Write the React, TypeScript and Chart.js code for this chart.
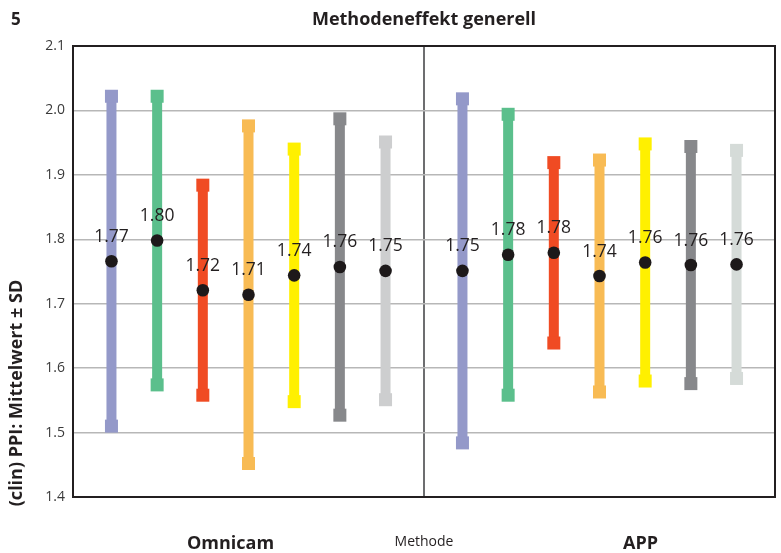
import React, { useEffect, useRef } from 'react';
import { Chart, registerables } from 'chart.js';

Chart.register(...registerables);

// ---- data ----
const methods = ['Omnicam', 'APP'];
const meanOmnicam = [1.766, 1.798, 1.721, 1.714, 1.744, 1.757, 1.751];
const sdOmnicam = [0.256, 0.224, 0.163, 0.262, 0.196, 0.23, 0.2];
const meanApp = [1.751, 1.776, 1.779, 1.743, 1.764, 1.76, 1.761];
const sdApp = [0.267, 0.218, 0.14, 0.18, 0.184, 0.184, 0.177];
const yMin = 1.4;
const yMax = 2.1;
const yStep = 0.1;
const chartTitle = 'Methodeneffekt generell';
const panelNumber = '5';
const yTitle = '(clin) PPI: Mittelwert ± SD';
const xTitle = 'Methode';

// ---- styles ----
const colorsOmnicam = ['#9499c9', '#5bbf8c', '#f04b23', '#f8bb54', '#fff000', '#87888b', '#cdcecf'];
const colorsApp = ['#9499c9', '#5bbf8c', '#f04b23', '#f8bb54', '#fff000', '#87888b', '#d5dbd8'];
const means = [meanOmnicam, meanApp];
const sds = [sdOmnicam, sdApp];
const groupColors = [colorsOmnicam, colorsApp];
const textColor = '#231f20';
const FONT = '"Open Sans", "DejaVu Sans", sans-serif';

const decorPlugin = {
  id: 'decor',
  afterDatasetsDraw(chart: any) {
    const ctx = chart.ctx;
    const ys = chart.scales.y;
    const cap = 13;
    chart.data.datasets.forEach((_ds: any, i: number) => {
      const meta = chart.getDatasetMeta(i);
      meta.data.forEach((el: any, j: number) => {
        const m = means[j][i];
        const s = sds[j][i];
        ctx.save();
        ctx.fillStyle = groupColors[j][i];
        [m - s, m + s].forEach((v) => {
          const py = ys.getPixelForValue(v);
          ctx.fillRect(el.x - cap / 2, py - cap / 2, cap, cap);
        });
        ctx.restore();
      });
    });
    chart.data.datasets.forEach((_ds: any, i: number) => {
      const meta = chart.getDatasetMeta(i);
      meta.data.forEach((el: any, j: number) => {
        const m = means[j][i];
        const py = ys.getPixelForValue(m);
        ctx.save();
        ctx.fillStyle = '#1d191a';
        ctx.beginPath();
        ctx.arc(el.x, py, 6.3, 0, Math.PI * 2);
        ctx.fill();
        ctx.restore();
      });
    });
    chart.data.datasets.forEach((_ds: any, i: number) => {
      const meta = chart.getDatasetMeta(i);
      meta.data.forEach((el: any, j: number) => {
        const m = means[j][i];
        const py = ys.getPixelForValue(m);
        ctx.save();
        ctx.fillStyle = textColor;
        ctx.font = `17.5px ${FONT}`;
        ctx.textAlign = 'center';
        ctx.textBaseline = 'alphabetic';
        ctx.fillText(m.toFixed(2), el.x, py - 19.5);
        ctx.restore();
      });
    });
  },
  afterDraw(chart: any) {
    const ctx = chart.ctx;
    const a = chart.chartArea;
    const xs = chart.scales.x;
    ctx.save();
    ctx.strokeStyle = '#231f20';
    ctx.lineWidth = 2;
    ctx.strokeRect(a.left, a.top, a.right - a.left, a.bottom - a.top);
    ctx.fillStyle = textColor;
    ctx.textBaseline = 'alphabetic';
    // panel number
    ctx.textAlign = 'left';
    ctx.font = `bold 17px ${FONT}`;
    ctx.fillText(panelNumber, 11, 25);
    // title
    ctx.textAlign = 'center';
    ctx.font = `bold 18px ${FONT}`;
    ctx.fillText(chartTitle, (a.left + a.right) / 2, 25);
    // x category labels
    ctx.font = `bold 18px ${FONT}`;
    ctx.fillText(methods[0], xs.getPixelForValue(0) - 18, 549);
    ctx.fillText(methods[1], xs.getPixelForValue(1) + 41, 549);
    ctx.font = `14px ${FONT}`;
    ctx.fillText(xTitle, (a.left + a.right) / 2, 546);
    // y title
    ctx.translate(22, 393);
    ctx.rotate(-Math.PI / 2);
    ctx.font = `bold 18px ${FONT}`;
    ctx.textAlign = 'center';
    ctx.fillText(yTitle, 0, 0);
    ctx.restore();
  },
};

export default function App() {
  const ref = useRef<HTMLCanvasElement | null>(null);
  useEffect(() => {
    if (!ref.current) return;
    const datasets = meanOmnicam.map((_, i) => ({
      label: `Serie ${i + 1}`,
      data: [
        [meanOmnicam[i] - sdOmnicam[i], meanOmnicam[i] + sdOmnicam[i]],
        [meanApp[i] - sdApp[i], meanApp[i] + sdApp[i]],
      ],
      backgroundColor: [colorsOmnicam[i], colorsApp[i]],
      borderWidth: 0,
      categoryPercentage: 0.911,
      barPercentage: 0.219,
    }));
    const chart = new Chart(ref.current, {
      type: 'bar',
      data: { labels: methods, datasets: datasets as any },
      options: {
        animation: false,
        responsive: true,
        maintainAspectRatio: false,
        layout: { padding: { top: 46, right: 6, left: 0, bottom: 0 } },
        plugins: { legend: { display: false }, tooltip: { enabled: false }, title: { display: false } },
        scales: {
          x: {
            ticks: { display: false },
            grid: { color: '#6d6e70', lineWidth: 2, offset: true, drawTicks: false },
            border: { display: false },
            afterFit: (s: any) => { s.height = 56; },
          },
          y: {
            min: yMin,
            max: yMax,
            ticks: {
              stepSize: yStep,
              padding: 8,
              color: '#3a3a3a',
              font: { family: FONT, size: 14 },
              callback: (v: any) => Number(v).toFixed(1),
            },
            grid: { color: '#b7b7b7', lineWidth: 1.5, drawTicks: false },
            border: { display: false },
            afterFit: (s: any) => { s.width = 73; },
          },
        },
      },
      plugins: [decorPlugin],
    });
    return () => chart.destroy();
  }, []);
  return (
    <div style={{ position: 'absolute', left: 0, top: 0, width: 781, height: 553, background: '#fff' }}>
      <canvas ref={ref} style={{ width: '100%', height: '100%' }} />
    </div>
  );
}
